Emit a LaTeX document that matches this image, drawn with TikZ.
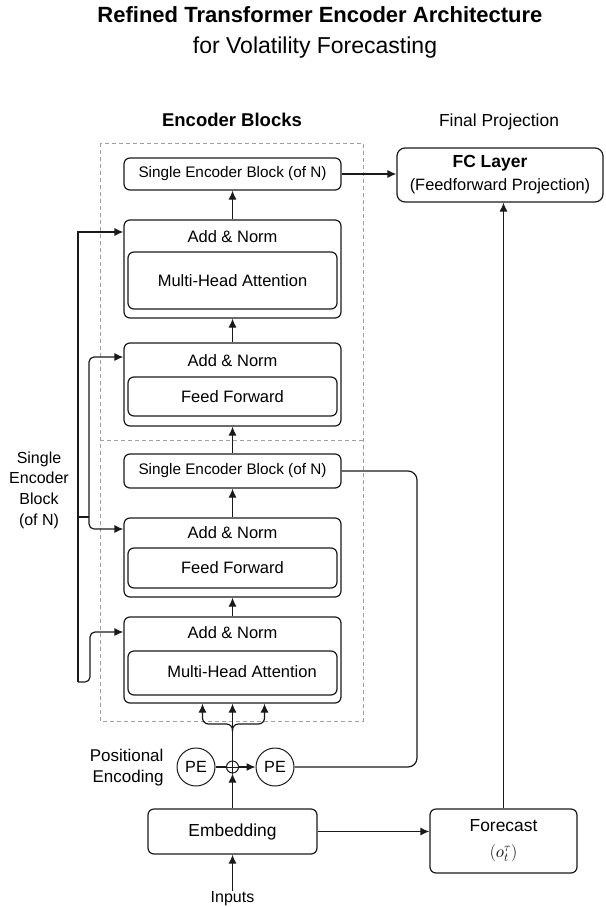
\documentclass[tikz,border=0pt]{standalone}
\usepackage{fontspec}
\setmainfont{Liberation Sans}
\usetikzlibrary{arrows.meta,calc}
\definecolor{linec}{HTML}{1A1A1A}
\definecolor{dashc}{HTML}{A0A0A0}
\begin{document}
\begin{tikzpicture}[x=1pt,y=-1pt,
  every node/.style={font=\fontsize{16.5}{20}\selectfont, text=black},
  box/.style={draw=linec, line width=1.2pt, rounded corners=6pt, inner sep=0pt},
  circ/.style={draw=linec, line width=1pt, circle, inner sep=0pt},
  arr/.style={-{Latex[length=9pt,width=8pt]}, draw=linec, line width=1.2pt},
  ln/.style={draw=linec, line width=1.2pt},
  dsh/.style={draw=dashc, dash pattern=on 4pt off 3pt, line width=0.8pt}]
\useasboundingbox (0,0) rectangle (605,907);

% titles
\node[font=\bfseries\fontsize{22}{26}\selectfont, anchor=base] (title1) at (320,23) {Refined Transformer Encoder Architecture};
\node[font=\fontsize{23}{27}\selectfont, anchor=base] (title2) at (315,53) {for Volatility Forecasting};
\node[font=\bfseries\fontsize{18.5}{22}\selectfont, anchor=base] (ebl) at (232,126) {Encoder Blocks};
\node[font=\fontsize{17.4}{21}\selectfont, anchor=base] (fpl) at (499,126) {Final Projection};

% dashed frame
\draw[dsh] (100,143) rectangle (363,721);
\draw[dsh] (100,440) -- (363,440);

% top encoder block
\node[box, minimum width=217pt, minimum height=32pt, font=\fontsize{15.3}{18}\selectfont] (seb1) at (232.5,174) {Single Encoder Block (of N)};
\node[box, minimum width=217pt, minimum height=98pt] (an1) at (232.5,269) {};
\node (an1t) at (232.5,237) {Add \& Norm};
\node[box, minimum width=209pt, minimum height=57pt] (mha1) at (232.5,280.5) {Multi-Head Attention};
\node[box, minimum width=217pt, minimum height=83pt] (an2) at (232.5,384.5) {};
\node (an2t) at (232.5,361) {Add \& Norm};
\node[box, minimum width=209pt, minimum height=39pt] (ff1) at (232.5,396.5) {Feed Forward};

% bottom encoder block
\node[box, minimum width=217pt, minimum height=34pt, font=\fontsize{15.3}{18}\selectfont] (seb2) at (232.5,471) {Single Encoder Block (of N)};
\node[box, minimum width=217pt, minimum height=79pt] (an3) at (232.5,557.5) {};
\node (an3t) at (232.5,533) {Add \& Norm};
\node[box, minimum width=209pt, minimum height=40pt] (ff2) at (232.5,568) {Feed Forward};
\node[box, minimum width=217pt, minimum height=86pt] (an4) at (232.5,660) {};
\node (an4t) at (232.5,633) {Add \& Norm};
\node[box, minimum width=209pt, minimum height=44pt] (mha2) at (232.5,673) {};
\node (mha2t) at (242,672) {Multi-Head Attention};

% FC layer
\node[box, rounded corners=8pt, minimum width=206pt, minimum height=54pt] (fc) at (500,175) {};
\node[font=\bfseries\fontsize{17.5}{21}\selectfont] (fct) at (490,163) {FC Layer};
\node[font=\fontsize{16.4}{20}\selectfont] (fcs) at (500,186) {(Feedforward Projection)};

% positional encoding
\node[circ, minimum size=38pt, font=\fontsize{16.2}{20}\selectfont] (pe1) at (196,767) {PE};
\node[circ, minimum size=12pt] (plus) at (232.5,767) {};
\node[circ, minimum size=38pt, font=\fontsize{16.2}{20}\selectfont] (pe2) at (275,767) {PE};
\node[align=right, anchor=east, font=\fontsize{17}{21}\selectfont] (posl) at (167,767.5) {Positional\\Encoding};

% embedding, forecast, inputs
\node[box, minimum width=169pt, minimum height=45pt, font=\fontsize{17.4}{21}\selectfont] (emb) at (232.5,831.5) {Embedding};
\node[box, minimum width=147pt, minimum height=64pt] (fore) at (503.5,841) {};
\node[font=\fontsize{17.4}{21}\selectfont] (foret) at (503.5,826) {Forecast};
\node[font=\fontsize{18}{21}\selectfont] (forem) at (503.5,853) {$(o_t^{\tau})$};
\node[inner sep=1pt, font=\fontsize{16}{19}\selectfont] (inputs) at (232.5,899) {Inputs};

% side label
\node[align=center, font=\fontsize{16}{20.7}\selectfont] (lbl) at (39,490) {Single\\Encoder\\Block\\(of N)};

% vertical flow
\draw[arr] (an1.north) -- (seb1.south);
\draw[arr] (an2.north) -- (an1.south);
\draw[arr] (seb2.north) -- (an2.south);
\draw[arr] (an3.north) -- (seb2.south);
\draw[arr] (an4.north) -- (an3.south);

% inputs / embedding / PE
\draw[arr] (inputs.north) -- (emb.south);
\draw[arr] (emb.north) -- (plus.south);
\draw[ln, line width=1pt] (plus.north) -- (plus.south) (plus.west) -- (plus.east);
\draw[ln] (pe1.east) -- (plus.west);
\draw[arr] (plus.east) -- (pe2.west);
\draw[arr] (plus.north) -- (an4.south);
\coordinate (br) at (232.5,731);
\draw[arr, rounded corners=6pt] (br) -- ++(0,-7) -| ([xshift=-30pt]an4.south);
\draw[arr, rounded corners=6pt] (br) -- ++(0,-7) -| ([xshift=32pt]an4.south);

% return line from second block to PE
\coordinate (rx) at (417,0);
\draw[ln, rounded corners=9pt] (seb2.east) -- (seb2.east -| rx) -- (pe2.east -| rx) -- (pe2.east);

% to FC and forecast
\draw[arr] (seb1.east) -- (seb1.east -| fc.west);
\draw[arr] (fore.north) -- (fore.north |- fc.south);
\draw[arr] (emb.east) -- (emb.east -| fore.west);

% skip connections
\coordinate (s1) at (78,232);
\coordinate (s2) at (78,682);
\coordinate (s3) at (90,682);
\coordinate (s4) at (90,632);
\coordinate (i1) at (89,357);
\coordinate (i2) at (89,517);
\coordinate (i3) at (89,529);
\coordinate (o3) at (78,517);
\draw[arr] (s2) -- (s1) -- (s1 -| an1.west);
\draw[arr, rounded corners=5pt] (s2) -- (s3) -- (s4) -- (s4 -| an4.west);
\draw[arr, rounded corners=5pt] (i2) -- (i1) -- (i1 -| an2.west);
\draw[arr, rounded corners=5pt] (i2) -- (i3) -- (i3 -| an3.west);
\draw[ln] (o3) -- (i2);
\end{tikzpicture}
\end{document}
